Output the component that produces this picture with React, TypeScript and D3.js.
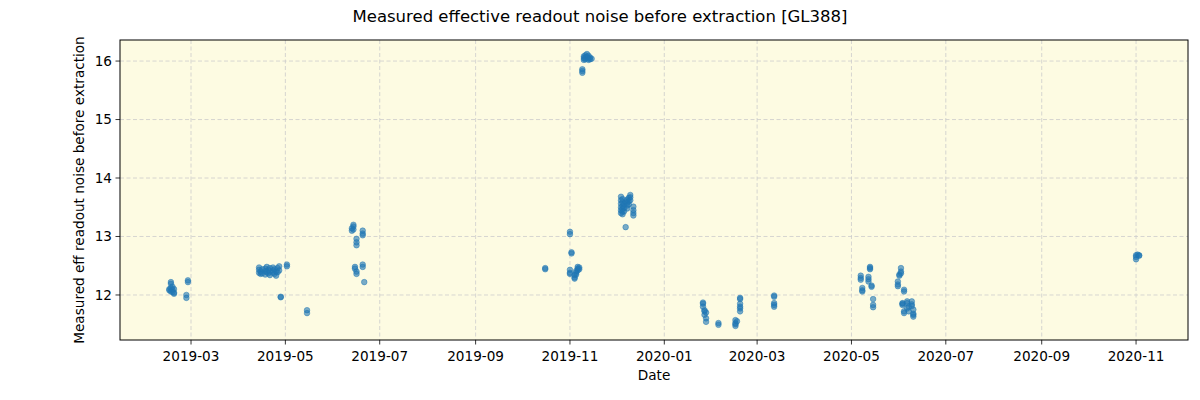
import React from "react";
import * as d3 from "d3";

const obsDates: string[] = [
  // Feb 2019
  "2019-02-15", "2019-02-15", "2019-02-16", "2019-02-16", "2019-02-16", "2019-02-16",
  "2019-02-17", "2019-02-17", "2019-02-17", "2019-02-18", "2019-02-18", "2019-02-18",
  "2019-02-26", "2019-02-26", "2019-02-27", "2019-02-27",
  // Apr-May 2019
  "2019-04-14", "2019-04-14", "2019-04-14", "2019-04-15", "2019-04-15", "2019-04-16", "2019-04-16",
  "2019-04-18", "2019-04-18", "2019-04-18", "2019-04-19", "2019-04-19", "2019-04-20", "2019-04-20",
  "2019-04-21", "2019-04-21", "2019-04-21", "2019-04-23", "2019-04-23", "2019-04-23",
  "2019-04-24", "2019-04-24", "2019-04-25", "2019-04-25", "2019-04-26", "2019-04-26",
  "2019-04-27", "2019-04-27", "2019-04-28", "2019-04-28", "2019-05-02", "2019-05-02",
  "2019-05-15", "2019-05-15",
  // Jun 2019
  "2019-06-13", "2019-06-13", "2019-06-14", "2019-06-14", "2019-06-14", "2019-06-15", "2019-06-15",
  "2019-06-16", "2019-06-16", "2019-06-16", "2019-06-16", "2019-06-16",
  "2019-06-20", "2019-06-20", "2019-06-20", "2019-06-20", "2019-06-20", "2019-06-21",
  // Oct 2019
  "2019-10-16", "2019-10-16",
  // Nov 2019
  "2019-11-01", "2019-11-01", "2019-11-01", "2019-11-01", "2019-11-01", "2019-11-02", "2019-11-02",
  "2019-11-04", "2019-11-04", "2019-11-04", "2019-11-05", "2019-11-05", "2019-11-05",
  "2019-11-06", "2019-11-06", "2019-11-06", "2019-11-07", "2019-11-07",
  "2019-11-09", "2019-11-09", "2019-11-09", "2019-11-10", "2019-11-10", "2019-11-10",
  "2019-11-11", "2019-11-11", "2019-11-11", "2019-11-12", "2019-11-12",
  "2019-11-13", "2019-11-13", "2019-11-13", "2019-11-14", "2019-11-14", "2019-11-15",
  // Dec 2019
  "2019-12-04", "2019-12-04", "2019-12-04", "2019-12-04", "2019-12-04", "2019-12-04",
  "2019-12-05", "2019-12-05", "2019-12-05", "2019-12-05", "2019-12-05", "2019-12-05",
  "2019-12-06", "2019-12-06", "2019-12-06", "2019-12-07", "2019-12-07",
  "2019-12-08", "2019-12-08", "2019-12-08", "2019-12-08", "2019-12-09", "2019-12-09", "2019-12-09",
  "2019-12-10", "2019-12-10", "2019-12-10", "2019-12-12", "2019-12-12", "2019-12-12", "2019-12-12",
  // Jan-Mar 2020
  "2020-01-26", "2020-01-26", "2020-01-26", "2020-01-27", "2020-01-27", "2020-01-27",
  "2020-01-28", "2020-01-28", "2020-01-28", "2020-02-05", "2020-02-05",
  "2020-02-16", "2020-02-16", "2020-02-16", "2020-02-16", "2020-02-17",
  "2020-02-19", "2020-02-19", "2020-02-19", "2020-02-19", "2020-02-19", "2020-02-19",
  "2020-03-12", "2020-03-12", "2020-03-12", "2020-03-12", "2020-03-12",
  // May-Jun 2020
  "2020-05-07", "2020-05-07", "2020-05-07", "2020-05-08", "2020-05-08", "2020-05-08",
  "2020-05-12", "2020-05-12", "2020-05-12", "2020-05-13", "2020-05-13", "2020-05-13",
  "2020-05-14", "2020-05-14", "2020-05-15", "2020-05-15", "2020-05-15",
  "2020-05-31", "2020-05-31", "2020-05-31", "2020-06-01", "2020-06-01",
  "2020-06-02", "2020-06-02", "2020-06-02", "2020-06-03", "2020-06-03", "2020-06-03",
  "2020-06-04", "2020-06-04", "2020-06-04", "2020-06-04", "2020-06-06", "2020-06-06", "2020-06-06",
  "2020-06-07", "2020-06-07", "2020-06-09", "2020-06-09", "2020-06-09",
  "2020-06-10", "2020-06-10", "2020-06-10", "2020-06-10",
  // Nov 2020
  "2020-11-01", "2020-11-01", "2020-11-01", "2020-11-02", "2020-11-03", "2020-11-03",
];

const noiseValues: number[] = [
  // Feb 2019
  12.08, 12.1, 12.19, 12.22, 12.12, 12.06,
  12.14, 12.09, 12.05, 12.1, 12.02, 12.04,
  12.0, 11.95, 12.25, 12.22,
  // Apr-May 2019
  12.47, 12.43, 12.38, 12.4, 12.36, 12.44, 12.37,
  12.41, 12.35, 12.45, 12.48, 12.39, 12.43, 12.37,
  12.46, 12.4, 12.34, 12.42, 12.38, 12.47,
  12.36, 12.44, 12.4, 12.33, 12.46, 12.39,
  12.49, 12.42, 11.97, 11.96, 12.52, 12.49,
  11.74, 11.69,
  // Jun 2019
  13.1, 13.14, 13.2, 13.17, 13.12, 12.48, 12.45,
  12.96, 12.9, 12.85, 12.4, 12.36,
  13.1, 13.05, 13.02, 12.52, 12.48, 12.22,
  // Oct 2019
  12.46, 12.44,
  // Nov 2019
  13.08, 13.04, 12.43, 12.38, 12.36, 12.73, 12.71,
  12.3, 12.28, 12.34, 12.38, 12.35, 12.41,
  12.45, 12.48, 12.42, 12.47, 12.44,
  15.86, 15.8, 15.83, 16.05, 16.02, 16.08,
  16.1, 16.06, 16.03, 16.12, 16.07,
  16.05, 16.09, 16.02, 16.06, 16.03, 16.04,
  // Dec 2019
  13.68, 13.62, 13.56, 13.5, 13.45, 13.4,
  13.64, 13.58, 13.52, 13.47, 13.42, 13.38,
  13.55, 13.49, 13.43, 13.6, 13.16,
  13.63, 13.58, 13.53, 13.48, 13.66, 13.6, 13.55,
  13.71, 13.67, 13.62, 13.51, 13.45, 13.4, 13.36,
  // Jan-Mar 2020
  11.87, 11.85, 11.8, 11.74, 11.72, 11.66,
  11.6, 11.54, 11.7, 11.52, 11.49,
  11.57, 11.52, 11.47, 11.5, 11.55,
  11.95, 11.93, 11.85, 11.8, 11.77, 11.72,
  11.99, 11.97, 11.86, 11.83, 11.8,
  // May-Jun 2020
  12.33, 12.29, 12.26, 12.12, 12.08, 12.06,
  12.31, 12.27, 12.23, 12.48, 12.44, 12.46,
  12.16, 12.14, 11.93, 11.83, 11.79,
  12.23, 12.18, 12.15, 12.35, 12.33,
  12.46, 12.4, 12.37, 11.86, 11.83, 11.85,
  12.09, 12.06, 11.72, 11.69, 11.89, 11.86, 11.77,
  11.72, 11.8, 11.89, 11.84, 11.81,
  11.68, 11.63, 11.66, 11.75,
  // Nov 2020
  12.68, 12.61, 12.65, 12.69, 12.68, 12.67,
];

const xTickLabels: string[] = [
  "2019-03", "2019-05", "2019-07", "2019-09", "2019-11", "2020-01",
  "2020-03", "2020-05", "2020-07", "2020-09", "2020-11",
];
const yTickValues: number[] = [12, 13, 14, 15, 16];

const W = 1200;
const H = 400;
const left = 120;
const right = 1188;
const top = 40;
const bottom = 340;
const FONT = "DejaVu Sans, sans-serif";
const AX_FS = 13.6;

export default function App() {
  const parse = d3.utcParse("%Y-%m-%d");
  const parseMonth = d3.utcParse("%Y-%m");
  const x = d3
    .scaleUtc()
    .domain([Date.UTC(2019, 0, 14, 2), Date.UTC(2020, 11, 4, 14)])
    .range([left, right]);
  const y = d3.scaleLinear().domain([11.23, 16.36]).range([bottom, top]);

  const points = obsDates.map((d, i) => ({ date: parse(d) as Date, v: noiseValues[i] }));
  const xTicks = xTickLabels.map((l) => ({ label: l, date: parseMonth(l) as Date }));

  return (
    <svg
      width={W}
      height={H}
      style={{ position: "absolute", left: 0, top: 0, background: "#ffffff" }}
      fontFamily={FONT}
    >
      <rect x={0} y={0} width={W} height={H} fill="#ffffff" />
      <rect x={left} y={top} width={right - left} height={bottom - top} fill="#fdfbe2" />
      {/* grid */}
      {xTicks.map((t) => (
        <line
          key={"gx" + t.label}
          x1={x(t.date)}
          x2={x(t.date)}
          y1={top}
          y2={bottom}
          stroke="#cccccc"
          strokeWidth={0.8}
          strokeDasharray="4,2.5"
        />
      ))}
      {yTickValues.map((v) => (
        <line
          key={"gy" + v}
          x1={left}
          x2={right}
          y1={y(v)}
          y2={y(v)}
          stroke="#cccccc"
          strokeWidth={0.8}
          strokeDasharray="4,2.5"
        />
      ))}
      {/* points */}
      {points.map((p, i) => (
        <circle
          key={i}
          cx={x(p.date)}
          cy={y(p.v)}
          r={2.8}
          fill="#1f77b4"
          fillOpacity={0.6}
          stroke="#1f77b4"
          strokeOpacity={0.6}
          strokeWidth={0.8}
        />
      ))}
      {/* frame */}
      <rect
        x={left}
        y={top}
        width={right - left}
        height={bottom - top}
        fill="none"
        stroke="#000000"
        strokeWidth={1}
      />
      {/* x ticks */}
      {xTicks.map((t) => (
        <g key={"tx" + t.label} transform={`translate(${x(t.date)},${bottom})`}>
          <line y1={0} y2={4.5} stroke="#000" strokeWidth={0.8} />
          <text y={21} textAnchor="middle" fontSize={AX_FS} fill="#000">
            {t.label}
          </text>
        </g>
      ))}
      {/* y ticks */}
      {yTickValues.map((v) => (
        <g key={"ty" + v} transform={`translate(${left},${y(v)})`}>
          <line x1={-4.5} x2={0} stroke="#000" strokeWidth={0.8} />
          <text x={-8} dy="0.35em" textAnchor="end" fontSize={AX_FS} fill="#000">
            {v}
          </text>
        </g>
      ))}
      {/* labels */}
      <text x={(left + right) / 2} y={380} textAnchor="middle" fontSize={AX_FS} fill="#000">
        Date
      </text>
      <text
        transform={`translate(84,${(top + bottom) / 2}) rotate(-90)`}
        textAnchor="middle"
        fontSize={AX_FS}
        fill="#000"
      >
        Measured eff readout noise before extraction
      </text>
      <text x={600} y={22} textAnchor="middle" fontSize={16.5} fill="#000">
        Measured effective readout noise before extraction [GL388]
      </text>
    </svg>
  );
}
